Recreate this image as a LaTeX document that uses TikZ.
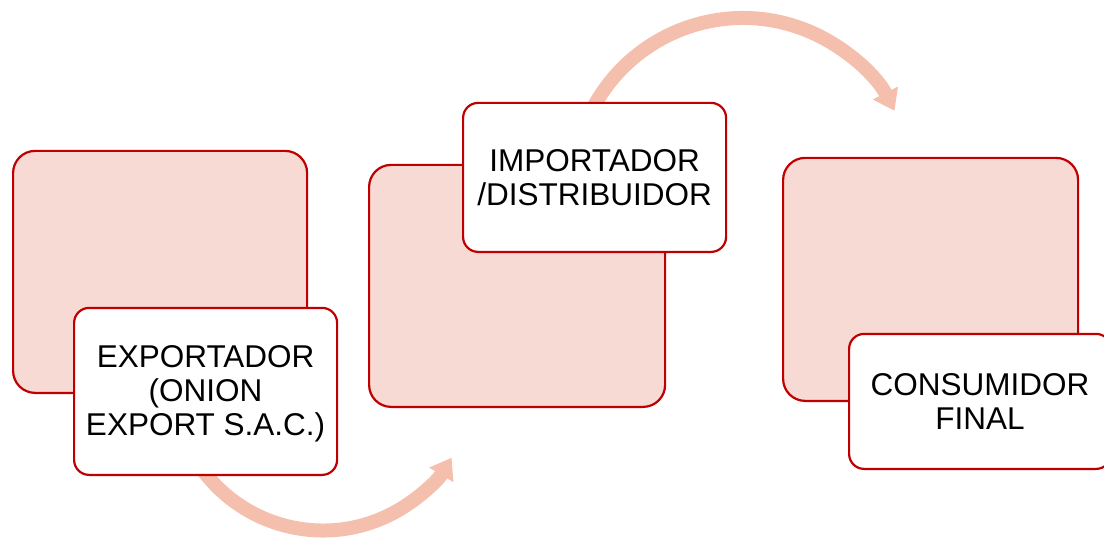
\documentclass[tikz,border=0pt]{standalone}
\usepackage{fontspec}
\setmainfont{Liberation Sans}
\usetikzlibrary{arrows.meta,calc}

\definecolor{boxred}{HTML}{C00000}
\definecolor{boxpink}{HTML}{F7DAD3}
\definecolor{flowpeach}{HTML}{F4C0AD}

\tikzset{
  backbox/.style={draw=boxred, line width=2.2pt, fill=boxpink,
    rounded corners=22pt, anchor=south west, inner sep=0pt},
  labelbox/.style={draw=boxred, line width=2.2pt, fill=white,
    rounded corners=15pt, anchor=south west, inner sep=0pt},
  labeltext/.style={align=center, inner sep=0pt,
    font=\fontsize{31.5}{34}\selectfont},
  flowarrow/.style={draw=flowpeach, line width=14pt,
    -{Triangle[width=27pt,length=20pt]}},
}

\begin{document}
\begin{tikzpicture}[x=1pt,y=1pt]
\clip (0,0) rectangle (1104,542);
\useasboundingbox (0,0) rectangle (1104,542);

% curved flow arrows (drawn first so the boxes cover their tails)
\coordinate (arcAstart) at ($(323,161.5)+(-150:150)$);
\coordinate (arcBstart) at ($(743,354)+(155:170)$);
\draw[flowarrow] (arcAstart) arc[start angle=-150, end angle=-31, radius=150];
\draw[flowarrow] (arcBstart) arc[start angle=155, end angle=27, radius=170];

% shaded background cards
\node[backbox, minimum width=294pt, minimum height=242pt] (back1) at (12,148) {};
\node[backbox, minimum width=296pt, minimum height=242pt] (back2) at (368,134) {};
\node[backbox, minimum width=295pt, minimum height=243pt] (back3) at (782,140) {};

% white label cards
\node[labelbox, minimum width=263pt, minimum height=167pt] (lab1) at (73,66) {};
\node[labelbox, minimum width=263pt, minimum height=149pt] (lab2) at (462,289) {};
\node[labelbox, minimum width=262pt, minimum height=135pt] (lab3) at (848,72) {};

\node[labeltext] (txt1) at ([yshift=-2pt]lab1.center) {EXPORTADOR\\(ONION\\EXPORT S.A.C.)};
\node[labeltext] (txt2) at (lab2.center) {IMPORTADOR\\/DISTRIBUIDOR};
\node[labeltext] (txt3) at (lab3.center) {CONSUMIDOR\\FINAL};
\end{tikzpicture}
\end{document}
